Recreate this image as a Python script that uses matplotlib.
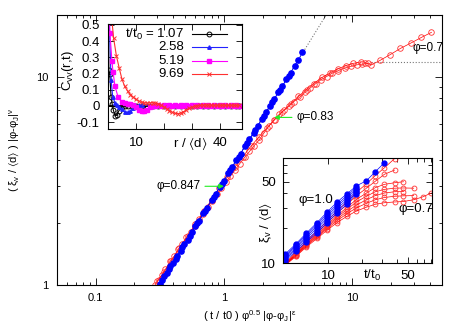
import matplotlib
matplotlib.use("Agg")
import matplotlib.pyplot as plt
from matplotlib.ticker import FixedLocator, NullFormatter

plt.rcParams['font.family'] = ['Liberation Sans', 'DejaVu Sans']
plt.rcParams['mathtext.fontset'] = 'custom'
plt.rcParams['mathtext.rm'] = 'Liberation Sans'
plt.rcParams['mathtext.it'] = 'Liberation Sans:italic'
plt.rcParams['mathtext.default'] = 'regular'
plt.rcParams['mathtext.fallback'] = 'stixsans'

blue = "#0000ff"
red = "#ff0000"
green = "#22ee22"
magenta = "#ff00ff"

# ---- main collapse: phi > phi_J (blue) ----
main_blue_x = [0.32, 0.34, 0.36, 0.38, 0.40, 0.43, 0.46, 0.49, 0.52, 0.56, 0.60, 0.64, 0.69,
               0.74, 0.80, 0.86, 0.93, 1.00, 1.08, 1.16, 1.25, 1.35, 1.46, 1.58, 1.70, 1.83,
               1.97, 2.12, 2.28, 2.46, 2.65, 2.85, 3.07, 3.30, 3.55, 3.80, 4.07]
main_blue_y = [1.01, 1.10, 1.14, 1.23, 1.27, 1.38, 1.46, 1.58, 1.65, 1.80, 1.92, 2.03, 2.22,
               2.36, 2.56, 2.74, 2.98, 3.18, 3.45, 3.70, 4.00, 4.30, 4.70, 5.05, 5.40, 5.85,
               6.30, 6.80, 7.25, 7.85, 8.50, 9.10, 9.80, 10.5, 11.4, 12.1, 13.2]
main_blue2_x = [0.33, 0.37, 0.42, 0.47, 0.54, 0.62, 0.71, 0.83, 0.96, 1.12, 1.30, 1.52, 1.76,
                2.05, 2.38, 2.75, 3.20]
main_blue2_y = [1.06, 1.19, 1.34, 1.52, 1.73, 1.99, 2.27, 2.66, 3.07, 3.58, 4.15, 4.85, 5.60,
                6.55, 7.60, 8.75, 10.2]

# ---- main collapse: phi < phi_J (red) ----
main_red_x = [0.29, 0.31, 0.33, 0.35, 0.38, 0.41, 0.44, 0.47, 0.51, 0.55, 0.59, 0.64, 0.69,
              0.75, 0.81, 0.88, 0.95, 1.03, 1.12, 1.22, 1.33, 1.45, 1.58, 1.72, 1.88, 2.05,
              2.25, 2.46, 2.70, 2.95, 3.2, 3.5, 3.9, 4.3, 4.7, 5.2, 5.7, 6.3, 7.0, 7.8, 8.7,
              9.7, 10.8, 12.0, 13.2]
main_red_y = [1.00, 1.06, 1.12, 1.19, 1.30, 1.38, 1.49, 1.57, 1.70, 1.80, 1.93, 2.07, 2.21,
              2.37, 2.55, 2.73, 2.92, 3.12, 3.35, 3.58, 3.85, 4.12, 4.40, 4.70, 5.00, 5.40,
              5.85, 6.25, 6.65, 6.95, 7.25, 7.65, 8.05, 8.50, 8.90, 9.35, 9.75, 10.1, 10.5,
              10.8, 11.1, 11.3, 11.5, 11.6, 11.7]
main_red2_x = [0.30, 0.34, 0.39, 0.45, 0.52, 0.60, 0.70, 0.80, 0.92, 1.06, 1.22, 1.40, 1.62,
               1.86, 2.15, 2.48, 2.85, 3.3, 3.8, 4.4, 5.0, 5.8, 6.7, 7.7, 8.9, 10.2, 11.7]
main_red2_y = [1.04, 1.15, 1.31, 1.50, 1.72, 1.97, 2.27, 2.57, 2.93, 3.30, 3.70, 4.15, 4.65,
               5.15, 5.70, 6.25, 6.85, 7.45, 8.10, 8.75, 9.35, 10.0, 10.5, 11.0, 11.4, 11.7, 11.9]
main_red07_x = [12.6, 14.1, 16.5, 19.8, 23.7, 28.9, 34.6, 41.4]
main_red07_y = [11.8, 11.5, 12.1, 12.9, 13.8, 14.7, 15.6, 16.5]

fit_x = [0.3125, 6.25]
fit_y = [1.0, 20.0]
plateau_x = [14.0, 50.0]
plateau_y = [11.9, 11.9]

# ---- inset 1: C_vv(r,t) ----
r_107 = [0.0, 0.3, 0.6, 1.1, 1.5, 1.9, 2.5, 3.2, 3.9, 5.0, 6.0, 7.0, 8.5, 10, 12, 14, 16, 18,
         20, 22, 24, 26, 28, 30, 32, 34, 36, 38, 40, 42, 44, 46, 47]
c_107 = [1.0, 0.22, 0.20, 0.056, 0.01, -0.025, -0.06, -0.058, -0.03, -0.008, -0.002, 0.0, 0.0,
         0.0, 0.0, 0.0, 0.0, 0.0, 0.0, 0.0, 0.0, 0.0, 0.0, 0.0, 0.0, 0.0, 0.0, 0.0, 0.0, 0.0,
         0.0, 0.0, 0.0]
r_258 = [0.4, 1.1, 1.7, 2.5, 3.2, 4, 5, 6, 7, 8, 9, 10, 11, 12, 15, 18, 21, 24, 27, 30, 33, 36,
         39, 42, 45, 47]
c_258 = [0.55, 0.16, 0.055, 0.02, 0.005, -0.008, -0.022, -0.036, -0.041, -0.032, -0.014, -0.002,
         0.003, 0.004, 0.004, 0.003, 0.004, 0.004, 0.003, 0.004, 0.004, 0.003, 0.004, 0.004,
         0.003, 0.004]
r_519 = [0.3, 0.7, 1.4, 1.8, 2.5, 3.6, 5, 6, 7, 8, 9, 10, 11, 12, 13, 14, 15, 16, 17, 18, 19,
         20, 21, 22, 23, 24, 25, 26, 27, 28, 29, 30, 31, 32, 33, 34, 35, 36, 37, 38, 39, 40, 41,
         42, 43, 44, 45, 46, 47]
c_519 = [0.65, 0.45, 0.28, 0.21, 0.12, 0.056, 0.025, 0.015, 0.012, 0.010, 0.003, -0.010, -0.024,
         -0.033, -0.034, -0.024, -0.010, -0.002, 0.002, 0.003, 0.002, 0.003, 0.002, 0.003, 0.002,
         0.003, 0.002, 0.003, 0.002, 0.003, 0.002, 0.003, 0.002, 0.003, 0.002, 0.003, 0.002,
         0.003, 0.002, 0.003, 0.002, 0.003, 0.002, 0.003, 0.002, 0.003, 0.002, 0.003, 0.002]
r_969 = [1, 2, 3, 4, 5, 6, 7, 8, 9, 10, 11, 12, 13, 14, 15, 16, 17, 18, 19, 20, 21, 22, 23, 24,
         25, 26, 27, 28, 29, 30, 31, 32, 33, 34, 35, 36, 37, 38, 39, 40, 41, 42, 43, 44, 45, 46,
         47]
c_969 = [0.60, 0.42, 0.31, 0.235, 0.165, 0.12, 0.092, 0.07, 0.054, 0.040, 0.029, 0.022, 0.019,
         0.018, 0.019, 0.020, 0.018, 0.012, 0.004, -0.006, -0.018, -0.030, -0.040, -0.046, -0.048,
         -0.045, -0.037, -0.026, -0.016, -0.008, -0.002, 0.002, 0.004, 0.005, 0.005, 0.005, 0.004,
         0.004, 0.004, 0.003, 0.004, 0.004, 0.003, 0.004, 0.004, 0.003, 0.004]
legend_labels = ["t/t$_0$ = 1.07", "2.58", "5.19", "9.69"]

# ---- inset 2: xi_v/<d> vs t/t0 ----
t_inset = [4.2, 5.2, 6.4, 8.0, 9.8, 12.0, 14.7, 17.7, 21.7, 26.0, 31.3, 38.4, 46.0, 56.6, 67.7, 81.0]
xi_blue = [
    [12.0, 14.6, 18.0, 22.3, 27.5, 33.5, 39.5, 46.0, 51.0, 61.0, 73.0],
    [11.7, 14.2, 17.4, 21.5, 26.5, 32.0, 38.0, 44.5],
    [11.4, 13.8, 16.9, 20.7, 25.4, 30.8, 36.5, 43.0],
    [11.1, 13.4, 16.3, 19.9, 24.3, 29.5, 35.0, 41.5],
    [10.8, 13.0, 15.7, 19.0, 23.2, 28.2, 33.5, 40.5],
    [10.5, 12.6, 15.1, 18.2, 22.2, 27.0, 32.2, 39.5],
]
xi_red = [
    [10.0, 12.4, 15.3, 18.8, 23.0, 28.0, 33.8, 40.5, 48.0, 56.5, 66.0, 79.0],
    [9.9, 12.1, 14.9, 18.2, 22.2, 26.8, 32.0, 37.8, 44.0, 50.5, 58.0, 63.0],
    [9.8, 11.9, 14.6, 17.7, 21.4, 25.6, 30.2, 35.2, 40.0, 44.5, 47.5, 49.0, 50.0],
    [9.8, 11.8, 14.4, 17.4, 20.9, 24.8, 29.0, 33.5, 37.5, 41.0, 43.0, 44.0, 44.2, 44.0],
    [9.7, 11.7, 14.2, 17.0, 20.3, 24.0, 27.8, 31.5, 35.0, 38.0, 40.0, 41.0, 41.2],
    [9.7, 11.6, 14.0, 16.7, 19.8, 23.2, 26.6, 29.8, 32.6, 35.0, 36.6, 37.5, 37.8, 38.0],
    [9.6, 11.4, 13.7, 16.3, 19.2, 22.3, 25.3, 28.0, 30.2, 32.0, 33.0, 33.5, 33.8, 35.0, 37.0, 40.0],
]

W, H = 463, 324
fig = plt.figure(figsize=(W / 100, H / 100), dpi=100)

# ================= main axes =================
ax = fig.add_axes([57 / W, 39 / H, 385 / W, 270 / H])
ax.set_xscale("log")
ax.set_yscale("log")
ax.plot(fit_x, fit_y, ls=":", color="#777777", lw=0.8)
ax.plot(plateau_x, plateau_y, ls=":", color="#777777", lw=0.8)
for xs, ys in [(main_red_x, main_red_y), (main_red2_x, main_red2_y), (main_red07_x, main_red07_y)]:
    ax.plot(xs, ys, "-o", color=red, lw=0.5, ms=4, mfc="none", mec="#ff3333", mew=0.6)
for xs, ys in [(main_blue2_x, main_blue2_y), (main_blue_x, main_blue_y)]:
    ax.plot(xs, ys, "-o", color=blue, lw=0.5, ms=3.8, mfc=blue, mec=blue)
ax.set_xlim(0.05, 50)
ax.set_ylim(1, 20)
ax.xaxis.set_major_locator(FixedLocator([0.1, 1, 10]))
ax.set_xticklabels(["0.1", "1", "10"])
ax.yaxis.set_major_locator(FixedLocator([1, 10]))
ax.set_yticklabels(["1", "10"])
ax.tick_params(which="both", direction="in", top=True, right=True, labelsize=8, width=0.6)
ax.tick_params(which="major", length=5, pad=6)
ax.tick_params(which="minor", length=2.5)
ax.yaxis.set_minor_formatter(NullFormatter())
ax.xaxis.set_minor_formatter(NullFormatter())
for s in ax.spines.values():
    s.set_linewidth(0.8)
fig.text(250 / W, 1 - 316 / H, r"( t / t0 ) φ$^{0.5}$ |φ-φ$_J$|$^{ε}$", fontsize=8,
         ha="center", va="center")
fig.text(14 / W, 1 - 150 / H, r"( ξ$_v$ / $\langle$d$\rangle$ ) |φ-φ$_J$|$^{ν}$", fontsize=8,
         ha="center", va="center", rotation=90)

arrow = dict(arrowstyle="-|>", color=green, lw=0.8, shrinkA=1, shrinkB=0, mutation_scale=7)
ax.annotate("φ=0.83", xy=(2.46, 6.42), xytext=(3.65, 6.42), ha="left", va="center",
            fontsize=8.5, arrowprops=arrow)
ax.annotate("φ=0.847", xy=(1.0, 2.99), xytext=(0.66, 2.99), ha="right", va="center",
            fontsize=8.5, arrowprops=arrow)
ax.text(29.4, 13.8, "φ=0.7", ha="left", va="center", fontsize=8.5, clip_on=False)

# ================= inset 1 =================
ax1 = fig.add_axes([108 / W, 195 / H, 134 / W, 105 / H])
ax1.axhline(0, color="black", lw=1.3)
ax1.plot(r_107, c_107, "-o", color="black", lw=0.8, ms=3.5, mfc="none", mew=0.7)
ax1.plot(r_258, c_258, "-^", color="#2222ff", lw=0.8, ms=2.5)
ax1.plot(r_519, c_519, "-s", color=magenta, lw=0.8, ms=2.5)
ax1.plot(r_969, c_969, "-x", color="#ff3030", lw=0.8, ms=3, mew=0.7)
ax1.set_xlim(0, 48)
ax1.set_ylim(-0.143, 0.506)
ax1.set_xticks([10, 20, 30, 40])
ax1.set_xticklabels(["10", "", "", "40"])
ax1.set_yticks([-0.1, 0, 0.1, 0.2, 0.3, 0.4, 0.5])
ax1.set_yticklabels(["-0.1", "0", "0.1", "0.2", "0.3", "0.4", "0.5"])
ax1.tick_params(direction="in", top=True, right=True, labelsize=9.5, length=4, width=0.6)
ax1.tick_params(axis="x", pad=6)
ax1.tick_params(axis="y", pad=6)
ax1.text(0.61, -0.135, r"r / $\langle$d$\rangle$", transform=ax1.transAxes, ha="center",
         va="center", fontsize=9.5)
fig.text(68 / W, 1 - 70 / H, "C$_{vv}$(r,t)", fontsize=9.5, ha="center", va="center",
         rotation=90)
legend_styles = [dict(color="black", marker="o", mfc="none", ms=3.5, mew=0.7),
                 dict(color="#2222ff", marker="^", ms=2.5),
                 dict(color=magenta, marker="s", ms=2.5),
                 dict(color="#ff3030", marker="x", ms=3, mew=0.7)]
for i, (lab, st) in enumerate(zip(legend_labels, legend_styles)):
    yy = 0.905 - 0.127 * i
    ax1.text(0.567, yy, lab, transform=ax1.transAxes, ha="right", va="center", fontsize=9.5)
    ax1.plot([0.627, 0.888], [yy, yy], transform=ax1.transAxes, lw=0.8, color=st["color"])
    ax1.plot([0.757], [yy], transform=ax1.transAxes, ls="none", **st)

# ================= inset 2 =================
ax2 = fig.add_axes([283 / W, 61 / H, 149 / W, 105 / H])
ax2.set_xscale("log")
ax2.set_yscale("log")
for ys in xi_red:
    ax2.plot(t_inset[:len(ys)], ys, "-o", color=red, lw=0.5, ms=3.5, mfc="none",
             mec="#ff3333", mew=0.6)
for ys in xi_blue:
    ax2.plot(t_inset[:len(ys)], ys, "-o", color=blue, lw=0.5, ms=3.5, mfc=blue, mec=blue)
ax2.set_xlim(4.0, 82)
ax2.set_ylim(10, 80)
ax2.xaxis.set_major_locator(FixedLocator([10, 50]))
ax2.xaxis.set_minor_locator(FixedLocator([20, 30, 40, 60, 70, 80]))
ax2.set_xticklabels(["10", "50"])
ax2.yaxis.set_major_locator(FixedLocator([10, 50]))
ax2.yaxis.set_minor_locator(FixedLocator([20, 30, 40, 60, 70]))
ax2.set_yticklabels(["10", "50"])
ax2.xaxis.set_minor_formatter(NullFormatter())
ax2.yaxis.set_minor_formatter(NullFormatter())
ax2.tick_params(which="both", direction="in", top=True, right=True, labelsize=9.5, width=0.6)
ax2.tick_params(which="major", length=4)
ax2.tick_params(which="minor", length=3)
ax2.tick_params(axis="x", which="both", pad=5)
ax2.tick_params(axis="y", which="both", pad=5)
ax2.text(0.60, -0.115, "t/t$_0$", transform=ax2.transAxes, ha="center", va="center",
         fontsize=9.5)
fig.text(266 / W, 1 - 222 / H, r"ξ$_v$ / $\langle$d$\rangle$", fontsize=9.5, ha="center",
         va="center", rotation=90)
ax2.text(5.43, 34.9, "φ=1.0", ha="left", va="center", fontsize=9.5)
ax2.text(41.6, 29.2, "φ=0.7", ha="left", va="center", fontsize=9.5)

fig.savefig("out.png", dpi=100)
